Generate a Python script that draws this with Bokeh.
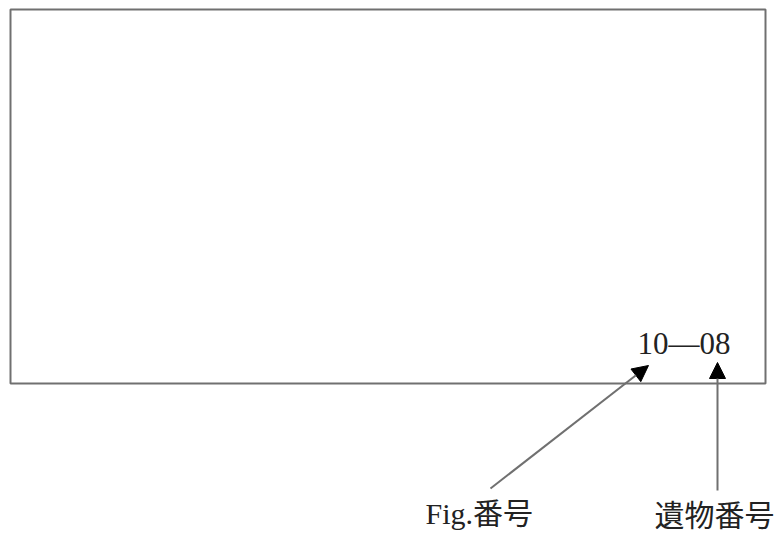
from bokeh.plotting import figure
from bokeh.models import Arrow, NormalHead, Range1d
from bokeh.core.properties import value
from bokeh.embed import file_html
from bokeh.resources import INLINE

# content
code_text = ["10\u201408"]
label_texts = ["Fig.番号", "遺物番号"]

W, H = 782, 541
p = figure(width=W, height=H, output_backend="svg", toolbar_location=None,
           x_range=Range1d(0, W), y_range=Range1d(0, H), min_border=0)
p.axis.visible = False
p.grid.visible = False
p.outline_line_color = None
p.background_fill_color = "white"
p.border_fill_color = "white"

# frame
p.quad(left=[10], right=[765], bottom=[158], top=[532], fill_color=None,
       line_color="#707070", line_width=2)

font = value("Liberation Serif, Noto Sans CJK JP")
p.text(x=[637], y=[198], text=code_text, text_font=font, text_font_size="31px",
       text_color="#222222", text_baseline="alphabetic", text_align="left")

p.text(x=[425, 654], y=[28, 26], text=label_texts, text_font=font,
       text_font_size="30px", text_color="#222222",
       text_baseline="alphabetic", text_align="left")

# arrows
for (x0, y0, x1, y1) in [(490, 53, 648, 176), (717, 51, 717, 179)]:
    p.add_layout(Arrow(end=NormalHead(size=16, fill_color="black", line_color="black"),
                       x_start=x0, y_start=y0, x_end=x1, y_end=y1,
                       line_color="#707070", line_width=2))

open("out.html", "w").write(file_html(p, INLINE))
